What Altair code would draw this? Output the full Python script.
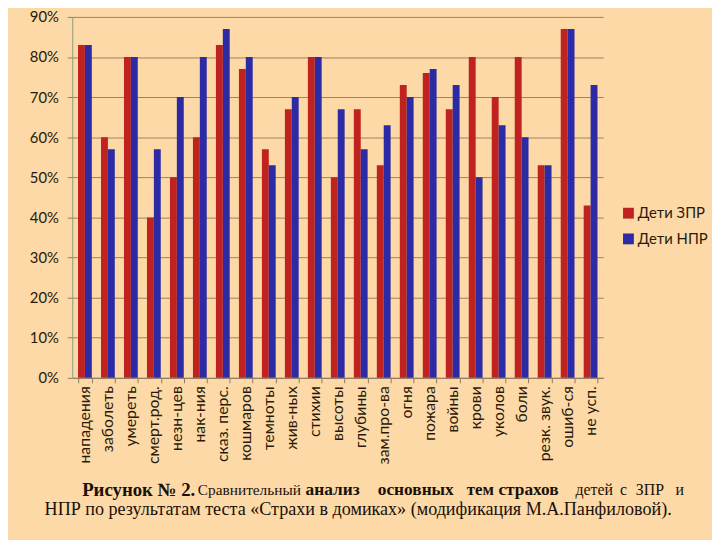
import altair as alt
import pandas as pd

categories = ["нападения", "заболеть", "умереть", "смерт.род.", "незн-цев", "нак-ния",
              "сказ. перс.", "кошмаров", "темноты", "жив-ных", "стихии", "высоты",
              "глубины", "зам.про-ва", "огня", "пожара", "войны", "крови", "уколов",
              "боли", "резк. звук.", "ошиб-ся", "не усп."]
zpr = [83, 60, 80, 40, 50, 60, 83, 77, 57, 67, 80, 50, 67, 53, 73, 76, 67, 80, 70, 80, 53, 87, 43]
npr = [83, 57, 80, 57, 70, 80, 87, 80, 53, 70, 80, 67, 57, 63, 70, 77, 73, 50, 63, 60, 53, 87, 73]
series = ["Дети ЗПР", "Дети НПР"]
colors = ["#C0221F", "#2C2AA5"]
y_ticks = [0, 0.1, 0.2, 0.3, 0.4, 0.5, 0.6, 0.7, 0.8, 0.9]

# caption line 1: (word, weight, font size, left x in page pixels)
cap1 = [("Рисунок № 2.", "bold", 19, 83), ("Сравнительный", "normal", 15.5, 200),
        ("анализ", "bold", 17.5, 309), ("основных", "bold", 17.5, 382), ("тем", "bold", 17, 472),
        ("страхов", "bold", 17.5, 504), ("детей", "normal", 16, 582), ("с", "normal", 16, 627),
        ("ЗПР", "normal", 16, 643), ("и", "normal", 16, 683)]
cap2 = "НПР по результатам теста «Страхи в домиках» (модификация М.А.Панфиловой)."

rows = []
for i, c in enumerate(categories):
    rows.append({"cat": c, "series": series[0], "value": zpr[i] / 100})
    rows.append({"cat": c, "series": series[1], "value": npr[i] / 100})
df = pd.DataFrame(rows)

BG = "#FCD9A6"
TXT = "#2a1a0a"
FONT = "Lato"
OX, OY = 73, 14

bars = alt.Chart(df).mark_bar().encode(
    x=alt.X("cat:N", sort=categories,
            scale=alt.Scale(paddingInner=0.4, paddingOuter=0.25),
            axis=alt.Axis(title=None, labelAngle=-90, tickBand="extent", tickSize=5,
                          tickColor="#8E7A62", domainColor="#8E7A62", labelPadding=3,
                          labelFontSize=16, labelColor=TXT, labelFont=FONT, grid=False)),
    xOffset=alt.XOffset("series:N", sort=series),
    y=alt.Y("value:Q", scale=alt.Scale(domain=[0, 0.9], nice=False),
            axis=alt.Axis(title=None, format=".0%", values=y_ticks, tickSize=5,
                          tickColor="#8E7A62", domainColor="#8D9A7E", gridColor="#8E7A62",
                          gridOpacity=0.9, labelPadding=9, labelFontSize=15,
                          labelColor=TXT, labelFont=FONT)),
    color=alt.Color("series:N", scale=alt.Scale(domain=series, range=colors),
                    legend=alt.Legend(title=None, orient="none", legendX=555, legendY=191,
                                      symbolType="square", symbolSize=120, symbolStrokeWidth=0,
                                      labelFontSize=15, labelColor=TXT, labelFont=FONT,
                                      rowPadding=10, labelOffset=2)),
)

layers = [bars]
for text, weight, size, xpos in cap1:
    layers.append(
        alt.Chart(pd.DataFrame({"t": [text]})).mark_text(
            align="left", baseline="middle", font="Liberation Serif",
            fontSize=size, fontWeight=weight, color="#1a1008"
        ).encode(text="t:N", x=alt.value(xpos - OX), y=alt.value(493 - OY))
    )
layers.append(
    alt.Chart(pd.DataFrame({"t": [cap2]})).mark_text(
        align="left", baseline="middle", font="Liberation Serif", fontSize=18.3,
        color="#1a1008"
    ).encode(text="t:N", x=alt.value(45 - OX), y=alt.value(513 - OY))
)

chart = alt.layer(*layers).properties(
    width=537, height=365,
    padding={"left": 65, "top": 6, "right": 110, "bottom": 161},
    autosize=alt.AutoSizeParams(type="none"),
    background=BG,
).configure_view(stroke=None)

chart.save("out.html", embed_options={"renderer": "svg", "actions": False})
